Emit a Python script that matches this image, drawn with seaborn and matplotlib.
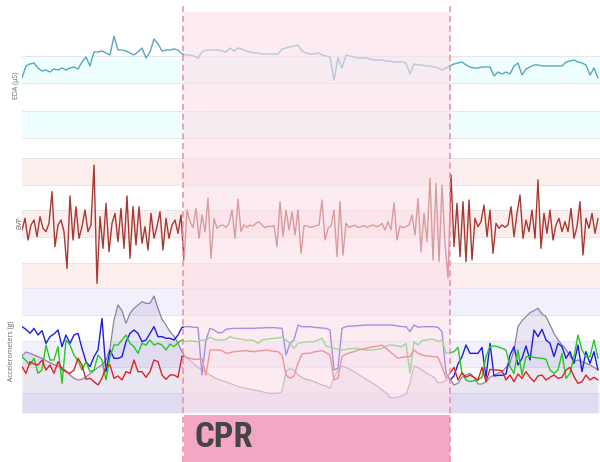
import numpy as np
import pandas as pd
import matplotlib.pyplot as plt
import matplotlib.transforms as mtransforms
import seaborn as sns

# signals (time in seconds from start of recording)
eda_step = 4
eda = [0.80, 0.92, 0.94, 0.95, 0.90, 0.87, 0.88, 0.86, 0.89, 0.88,
       0.90, 0.88, 0.90, 0.91, 0.89, 0.96, 1.01, 0.92, 1.06, 1.06,
       1.07, 1.05, 1.03, 1.22, 1.08, 1.08, 1.07, 1.05, 1.03, 1.06,
       1.10, 1.00, 1.06, 1.19, 1.14, 1.07, 1.08, 1.08, 1.09, 1.08,
       1.04, 1.03, 1.03, 1.02, 1.00, 1.06, 1.08, 1.08, 1.08, 1.08,
       1.07, 1.06, 1.10, 1.07, 1.10, 1.09, 1.07, 1.06, 1.05, 1.05,
       1.04, 1.04, 1.04, 1.04, 1.04, 1.09, 1.10, 1.11, 1.12, 1.13,
       1.07, 1.05, 1.04, 1.04, 1.05, 1.03, 1.02, 1.01, 0.78, 1.00,
       0.90, 1.03, 1.02, 1.01, 1.00, 1.00, 1.00, 0.99, 0.98, 0.98,
       0.98, 0.97, 0.97, 0.96, 0.96, 0.96, 0.95, 0.84, 0.94, 0.93,
       0.93, 0.92, 0.92, 0.91, 0.90, 0.88, 0.90, 0.92, 0.94, 0.95,
       0.96, 0.93, 0.91, 0.90, 0.90, 0.91, 0.91, 0.91, 0.82, 0.86,
       0.84, 0.86, 0.84, 0.92, 0.95, 0.83, 0.89, 0.91, 0.93, 0.93,
       0.92, 0.92, 0.92, 0.92, 0.92, 0.92, 0.96, 0.97, 0.98, 0.96,
       0.95, 0.93, 0.83, 0.90, 0.80]

bvp_step = 3
bvp = [-10, 25, -40, 5, 20, -30, 30, -5, -15, 10,
       105, -60, 5, 20, -15, -125, 92, -40, 60, -35,
       0, 50, -15, 5, 185, -170, 30, -65, 70, -75,
       10, 40, -45, 55, -65, 92, -95, 60, -55, 60,
       -50, 0, -70, 40, -35, 0, 45, -70, 25, -35,
       5, 20, -20, 35, -100, 50, 15, -3, 55, -35,
       35, -15, 85, -95, 25, -5, 3, 5, -2, 10,
       50, -35, 82, -15, 5, -2, 5, 2, 10, 15,
       5, -3, 2, 0, 3, -60, 75, -30, 50, -10,
       45, -25, 50, -80, 3, 2, -2, 0, 3, 5,
       80, -40, -5, 2, 50, -90, 75, -85, 10, -3,
       2, 4, -2, 0, 3, -2, 2, 5, 0, 2,
       10, -10, 15, -10, 72, -40, 2, -3, 0, 5,
       35, -25, 85, -75, 40, -45, 145, -100, 130, -105,
       125, -50, -155, 155, -60, 70, -90, 75, -105, 80,
       -100, 25, 0, 15, 65, -30, 50, -80, 10, -5,
       5, -2, 5, 60, -30, 40, 95, -35, 20, -15,
       50, -35, 140, -65, 40, -20, 50, -40, 5, 25,
       -15, 15, -15, 55, -35, 0, 75, -85, 25, -5,
       40, -20, 25]

acc_step = 4
acc_x = [0.70, 0.62, 0.50, 0.65, 0.45, 0.58, 0.20, 0.40, 0.48, 0.60,
         0.10, 0.45, 0.20, 0.45, 0.50, 0.05, -0.35, -0.50, -0.20, 0.00,
         0.95, -0.65, 0.00, -0.25, -0.25, -0.20, 0.25, 0.50, 0.60, 0.50,
         0.25, 0.30, 0.50, 0.70, 0.40, 0.40, 0.35, 0.35, 0.30, 0.45,
         0.68, 0.70, 0.70, 0.68, 0.68, -0.75, 0.30, 0.65, 0.60, 0.52,
         0.52, 0.62, 0.64, 0.65, 0.65, 0.65, 0.65, 0.65, 0.65, 0.66,
         0.66, 0.67, 0.67, 0.67, 0.66, 0.65, -0.15, 0.20, 0.30, 0.75,
         0.70, 0.70, 0.70, 0.68, 0.67, 0.66, 0.65, 0.60, -0.60, -0.55,
         0.65, 0.70, 0.72, 0.72, 0.73, 0.74, 0.75, 0.75, 0.75, 0.75,
         0.75, 0.75, 0.75, 0.74, 0.72, 0.70, 0.70, 0.55, 0.75, 0.68,
         0.70, 0.70, 0.70, 0.70, 0.68, 0.55, -0.70, -0.90, -0.78, -0.42,
         -0.20, 0.15, -0.10, -0.10, -0.10, 0.08, -0.82, 0.20, -0.78, -0.76,
         -0.76, -0.72, -0.15, 0.10, -0.45, -0.25, 0.12, -0.30, 0.60, 0.40,
         0.62, 0.30, 0.20, -0.20, 0.20, 0.10, -0.25, -0.05, -0.40, 0.15,
         -0.65, -0.05, -0.40, -0.05, -0.60]
acc_y = [-0.20, -0.32, -0.45, -0.25, -0.70, -0.60, 0.15, -0.30, -0.30, 0.10,
         -1.00, 0.30, 0.15, -0.15, -0.32, -0.60, -0.35, -0.65, -0.60, -0.15,
         -0.30, -0.90, -0.20, 0.15, 0.15, 0.30, 0.45, 0.20, 0.10, -0.10,
         0.20, 0.15, 0.30, 0.15, 0.20, 0.15, 0.00, 0.18, 0.10, 0.22,
         0.30, 0.25, 0.28, 0.26, 0.25, 0.30, 0.30, 0.38, 0.32, 0.30,
         0.30, 0.32, 0.40, 0.36, 0.34, 0.32, 0.30, 0.30, 0.28, 0.20,
         0.30, 0.32, 0.34, 0.35, 0.36, 0.38, 0.30, 0.20, 0.05, 0.20,
         0.22, 0.24, 0.25, 0.25, 0.30, 0.35, 0.12, 0.08, 0.05, 0.02,
         0.00, 0.02, 0.04, 0.05, 0.04, 0.02, 0.00, 0.00, 0.01, 0.02,
         0.05, 0.12, 0.15, 0.14, 0.12, 0.10, 0.20, -0.70, 0.25, 0.15,
         0.28, 0.30, 0.32, 0.32, 0.25, 0.30, -0.10, -0.08, -0.05, 0.08,
         -0.70, -0.90, -0.95, -0.92, -0.90, -0.82, -0.20, 0.10, 0.12, 0.10,
         0.05, 0.00, -0.50, -0.70, 0.00, -0.75, -0.20, -0.20, -0.22, -0.24,
         -0.25, -0.28, -0.60, -0.70, -0.60, -0.10, -0.85, -0.70, -0.20, 0.45,
         0.00, -0.20, -0.20, 0.30, -0.25]
acc_z = [-0.50, -0.70, -0.35, -0.42, -0.45, -0.30, -0.60, -0.45, -0.70, -0.35,
         -0.58, -0.65, -0.70, -0.60, -0.25, -0.45, -0.88, -0.85, -0.95, -1.05,
         -0.85, -0.50, -0.45, -0.85, -0.78, -0.90, -0.65, -0.70, -0.30, -0.65,
         -0.65, -0.82, -0.65, -0.30, -0.35, -0.75, -0.88, -0.75, -0.75, -0.82,
         -0.18, -0.22, -0.25, -0.28, -0.28, -0.25, -0.75, 0.00, 0.00, 0.00,
         -0.02, -0.10, -0.08, -0.05, -0.04, -0.03, -0.02, -0.04, -0.05, -0.03,
         -0.02, 0.00, -0.02, -0.04, -0.05, -0.15, -0.75, -0.85, -0.78, -0.40,
         -0.12, -0.10, -0.10, -0.06, -0.04, -0.02, -0.08, -0.15, -0.90, -0.85,
         -0.20, -0.12, -0.08, -0.05, 0.00, 0.02, 0.05, 0.08, 0.10, 0.12,
         0.15, 0.05, -0.05, -0.15, -0.25, -0.22, -0.20, -0.20, 0.00, -0.10,
         -0.15, -0.18, -0.18, -0.20, -0.22, -0.50, -0.85, -0.70, -0.52, -0.90,
         -0.68, -0.82, -0.75, -0.82, -0.90, -0.52, -0.95, -0.58, -0.60, -0.60,
         -0.62, -0.90, -0.75, -0.95, -0.72, -0.85, -0.65, -0.82, -0.95, -0.78,
         -0.75, -0.90, -0.82, -0.75, -0.85, -0.82, -0.60, -0.52, -0.80, -1.00,
         -0.95, -0.75, -0.90, -0.82, -0.90]
acc_mag = [-0.18, -0.06, -0.10, -0.15, -0.20, -0.25, -0.32, -0.38, -0.44, -0.48,
           -0.52, -0.62, -0.75, -0.85, -0.90, -0.88, -0.80, -0.72, -0.62, -0.52,
           -0.45, -0.30, 0.05, 0.90, 1.35, 1.18, 0.80, 1.10, 1.25, 1.35,
           1.45, 1.40, 1.40, 1.62, 1.25, 0.92, 0.75, 0.55, 0.42, 0.20,
           -0.05, -0.22, -0.32, -0.42, -0.52, -0.60, -0.68, -0.75, -0.82, -0.88,
           -0.92, -0.96, -1.00, -1.05, -1.09, -1.12, -1.15, -1.18, -1.20, -1.22,
           -1.25, -1.28, -1.30, -1.30, -1.30, -1.25, -0.65, -0.55, -0.60, -0.75,
           -0.82, -0.88, -0.90, -0.95, -1.00, -1.05, -1.08, -1.15, -0.82, -0.60,
           -0.48, -0.52, -0.58, -0.65, -0.72, -0.80, -0.88, -0.95, -1.02, -1.10,
           -1.20, -1.28, -1.42, -1.44, -1.42, -1.38, -1.32, -1.00, -0.48, -0.52,
           -0.60, -0.68, -0.75, -0.82, -0.98, -0.98, -0.90, -0.86, -1.05, -1.00,
           -0.82, -0.75, -0.70, -0.82, -1.02, -1.02, -0.95, -0.82, -0.75, -0.70,
           -0.65, -0.52, -0.40, 0.00, 0.70, 0.88, 1.00, 1.12, 1.18, 1.25,
           1.08, 1.00, 0.75, 0.50, 0.30, 0.15, 0.02, -0.18, -0.35, -0.30,
           -0.35, -0.40, -0.45, -0.52, -0.60]

cpr_start, cpr_end = 162, 428
t_end = 578

t_eda = np.arange(len(eda)) * eda_step
t_bvp = np.arange(len(bvp)) * bvp_step
t_acc = np.arange(len(acc_x)) * acc_step

sns.set_style("white")
plt.rcParams["font.family"] = ["Open Sans", "DejaVu Sans"]

fig = plt.figure(figsize=(6, 4.62), dpi=100)
H = 462
L, W = 22 / 600, 578 / 600

def add_panel(top, bottom):
    return fig.add_axes([L, (H - bottom) / H, W, (bottom - top) / H])

ax_eda = add_panel(12, 158)
ax_bvp = add_panel(158, 288)
ax_acc = add_panel(288, 413)
ax_cpr = add_panel(413, 462)

def bands(ax, edges, fills):
    for k, c in enumerate(fills):
        ax.axhspan(edges[k + 1], edges[k], color=c, lw=0, zorder=0)
    for e in edges:
        ax.axhline(e, color="#e6e6e6", lw=0.7, zorder=0.5)

bands(ax_eda, [1.02, 0.75, 0.47, 0.20, 0.0], ["#effefe", "white", "#effefe", "white"])
bands(ax_bvp, [206, 125, 50, -31, -109, -184],
      ["#fdeeee", "white", "#fdeeee", "white", "#fdeeee"])
bands(ax_acc, [1.86, 1.05, 0.27, -0.51, -1.29, -1.89],
      ["#f3f0fd", "white", "#f3f0fd", "white", "#f3f0fd"])

# EDA
sns.lineplot(x=t_eda, y=eda, ax=ax_eda, color="#5aa6bc", lw=1.0, zorder=2, estimator=None)
ax_eda.set_ylim(0, 1.46)

# BVP
sns.lineplot(x=t_bvp, y=bvp, ax=ax_bvp, color="#a63a33", lw=1.0, zorder=2, estimator=None)
ax_bvp.set_ylim(-184, 206)

# accelerometers
acc_lo = -1.89
ax_acc.fill_between(t_acc, acc_mag, acc_lo, color="#7864aa", alpha=0.15, lw=0, zorder=1)
sns.lineplot(x=t_acc, y=acc_mag, ax=ax_acc, color="#8e819f", lw=0.9, zorder=2, estimator=None)
acc = pd.DataFrame({"t": t_acc, "x": acc_x, "y": acc_y, "z": acc_z})
acc_long = acc.melt("t", var_name="axis", value_name="g")
sns.lineplot(data=acc_long, x="t", y="g", hue="axis", ax=ax_acc, legend=False,
             palette={"x": "#1e1ee0", "y": "#22c922", "z": "#dc2424"},
             lw=1.0, zorder=2, estimator=None)
ax_acc.set_ylim(acc_lo, 1.86)

labels = [(ax_eda, "EDA (µS)", 20.5), (ax_bvp, "BVP", 23), (ax_acc, "Accelerometers (g)", 15)]
for ax, lab, right in labels:
    ax.set_xlim(0, t_end)
    ax.set_xticks([])
    ax.set_yticks([])
    ax.set_xlabel("")
    ax.set_ylabel(lab, fontsize=5, color="#666666")
    ax.yaxis.set_label_coords((right - 22) / 578, 0.5)
    sns.despine(ax=ax, left=True, bottom=True)
    ax.axvspan(cpr_start, cpr_end, color="#fadfe8", alpha=0.6, lw=0, zorder=5)

# CPR label strip
ax_cpr.set_xlim(0, t_end)
ax_cpr.set_ylim(0, 1)
ax_cpr.axis("off")
ax_cpr.axvspan(cpr_start, cpr_end, 0, 0.96, color="#f4a7c4", lw=0)
ax_cpr.text(cpr_start + 11, 0.30, "CPR", fontsize=25, fontweight="bold",
            family=["Roboto Condensed", "Liberation Sans Narrow", "Roboto", "DejaVu Sans"],
            fontstretch="condensed", color="#454545", va="baseline", ha="left")

# dashed event boundaries over the whole height
trans = mtransforms.blended_transform_factory(ax_eda.transData, fig.transFigure)
for xv in (cpr_start - 1, cpr_end):
    fig.add_artist(plt.Line2D([xv, xv], [0, (H - 6) / H], transform=trans,
                              color="#ee88aa", lw=1.1, ls=(0, (4, 2.4)), zorder=10))

fig.savefig("out.png", dpi=100)
